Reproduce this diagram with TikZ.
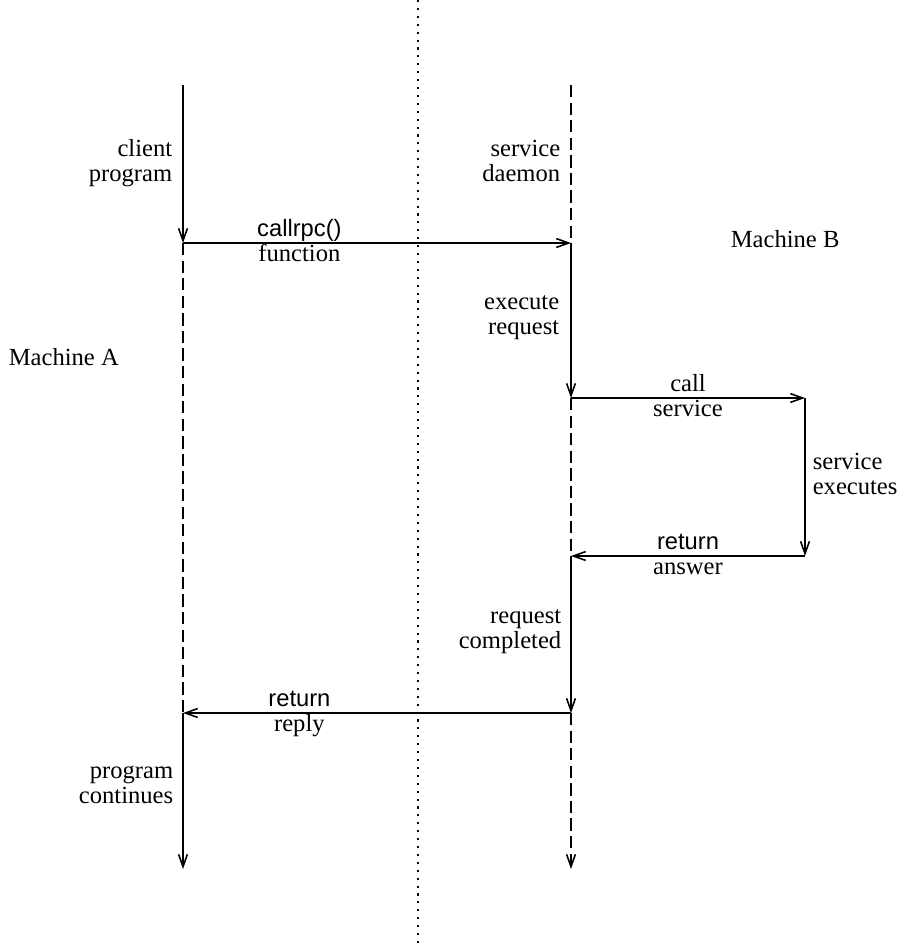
\documentclass[tikz,border=0pt]{standalone}
\usepackage{fontspec}
\setmainfont{Liberation Serif}
\setsansfont{Liberation Sans}
\usetikzlibrary{arrows.meta}

\begin{document}
\begin{tikzpicture}[x=0.02cm,y=-0.02cm,line width=0.9pt,
		>={Straight Barb[length=7pt,width=5pt]},
		idle/.style={dash pattern=on 7pt off 3pt},
		divide/.style={line width=1.2pt,dash pattern=on 1.2pt off 3.3pt},
		fname/.style={font=\sffamily\fontsize{13.5}{14.2}\selectfont},
		over/.style={anchor=base,yshift=0.14cm},
		under/.style={anchor=base,yshift=-0.36cm}]
		\useasboundingbox (0,0) rectangle (909,948);
		% time lines
		\coordinate (A0) at (183,85);
		\coordinate (A1) at (183,243);
		\coordinate (A2) at (183,713);
		\coordinate (A3) at (183,869);
		\coordinate (B0) at (571,85);
		\coordinate (B1) at (571,243);
		\coordinate (B2) at (571,398);
		\coordinate (B3) at (571,556);
		\coordinate (B4) at (571,713);
		\coordinate (B5) at (571,869);
		\coordinate (S1) at (805,398);
		\coordinate (S2) at (805,556);
		\coordinate (D0) at (418,0);
		\coordinate (D1) at (418,948);
		\draw [divide] (D0) -- (D1);
		\draw [->] (A0) -- (A1);
		\draw [idle] (A1) -- (A2);
		\draw [->] (A2) -- (A3);
		\draw [idle] (B0) -- (B1);
		\draw [->] (B1) -- (B2);
		\draw [idle] (B2) -- (B3);
		\draw [->] (B3) -- (B4);
		\draw [idle,->] (B4) -- (B5);
		\begin{scope}[every node/.style={font=\fontsize{14}{14.2}\selectfont,
				inner sep=0pt,align=right,anchor=north east,
				execute at begin node=\strut}]
			\node (client) at (173,139) {client\\program};
			\node (daemon) at (561,139) {service\\daemon};
			\node (execute) at (560,295) {execute\\request};
			\node (completed) at (562,609) {request\\completed};
			\node (continues) at (174,765) {program\\continues};
			\node [align=left,anchor=north west] (executes) at (812,452) {service\\executes};
			\node [anchor=base west] (machA) at (8,365) {Machine A};
			\node [anchor=base west] (machB) at (730,247) {Machine B};
		\end{scope}
		\begin{scope}[every node/.style={font=\fontsize{14}{14.2}\selectfont,inner sep=0pt},
			every edge/.style={draw,line width=0.9pt}]
			\path [->] (A1) edge node [fname,over,pos=0.3] (callrpc) {callrpc()}
				node [under,pos=0.3] (function) {function} (B1);
			\path [->] (B2) edge node [over] (call) {call}
				node [under] (service) {service} (S1);
			\path [->] (S1) edge (S2);
			\path [->] (S2) edge node [fname,over] (retA) {return}
				node [under] (answer) {answer} (B3);
			\path [->] (B4) edge node [fname,over,pos=0.7] (retB) {return}
				node [under,pos=0.7] (reply) {reply} (A2);
		\end{scope}
	\end{tikzpicture}
\end{document}
